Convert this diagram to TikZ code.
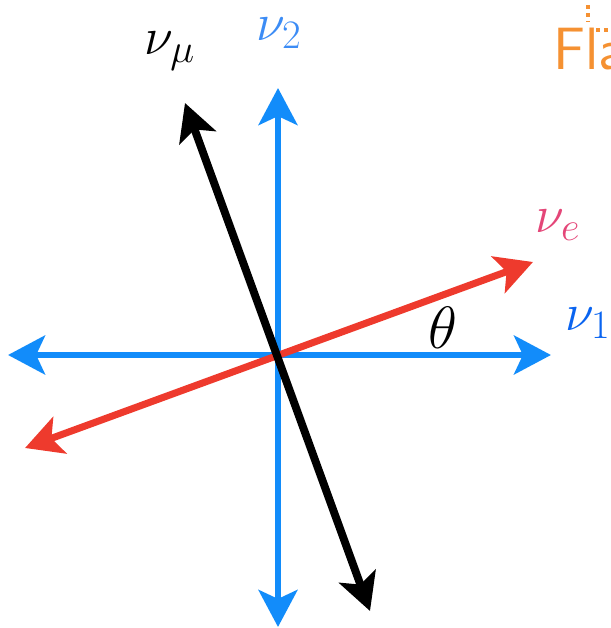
\RequirePackage{fix-cm}
\documentclass[tikz,border=0pt]{standalone}
\usepackage{amsmath}
\usepackage{tikz}
\usetikzlibrary{arrows.meta}

\DeclareMathSizes{30}{30}{23}{18}

\definecolor{axisblue}{RGB}{18,140,250}
\definecolor{labblue}{RGB}{60,140,245}
\definecolor{labblueone}{RGB}{10,100,240}
\definecolor{mixred}{RGB}{238,58,45}
\definecolor{labpink}{RGB}{228,70,120}
\definecolor{flaorange}{RGB}{245,145,50}

\begin{document}
\begin{tikzpicture}[x=0.02cm, y=-0.02cm,
  dbl/.style={{Stealth[length=21pt, width=22pt, inset=5pt]}-{Stealth[length=21pt, width=22pt, inset=5pt]}},
  axis/.style={dbl, line width=3.9pt, draw=axisblue, fill=axisblue},
  mix/.style={dbl, line width=4pt},
  lbl/.style={font=\fontsize{30}{36}\selectfont, inner sep=0pt}
]
  \useasboundingbox (0,0) rectangle (611,628);
  \clip (0,0) rectangle (611,628);

  % arrow ends
  \coordinate (v1w) at (8,355);    \coordinate (v1e) at (551,355);
  \coordinate (v2n) at (278,88);   \coordinate (v2s) at (278,627);
  \coordinate (vew) at (25,448);   \coordinate (vee) at (533,262);
  \coordinate (vmn) at (185,103);  \coordinate (vms) at (370,611);

  % mass basis
  \draw[axis] (v1w) -- (v1e);
  \draw[axis] (v2s) -- (v2n);

  % flavour basis
  \draw[mix, draw=mixred, fill=mixred] (vew) -- (vee);
  \draw[mix, draw=black, fill=black, line width=4.5pt] (vms) -- (vmn);

  \node[lbl] (lmu) at (170,51) {$\nu_\mu$};
  \node[lbl, text=labblue] (ltwo) at (279,33) {$\nu_2$};
  \node[lbl, text=labpink] (le) at (558,225) {$\nu_e$};
  \node[lbl, text=labblueone] (lone) at (588,323) {$\nu_1$};
  \node[lbl, font=\fontsize{34}{40}\selectfont] (th) at (443,328) {$\theta$};

  \node[anchor=base west, inner sep=0pt, text=flaorange,
        font=\sffamily\fontsize{34}{40}\selectfont] (fla) at (553,70) {Fla};
  \draw[flaorange, dotted, line width=2.5pt] (588,5) -- (588,22);
  \draw[flaorange, dotted, line width=2.5pt] (596,30) -- (611,30);
\end{tikzpicture}
\end{document}
